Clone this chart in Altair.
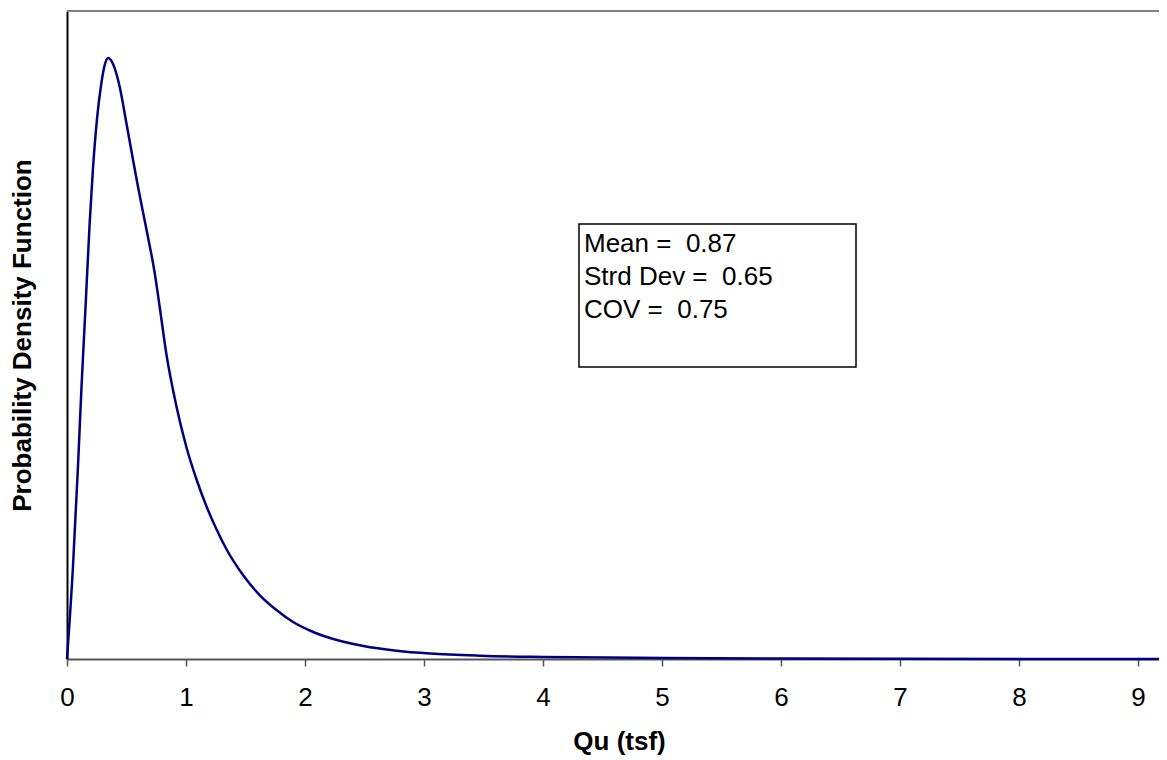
import altair as alt
import pandas as pd

# Curve (x in tsf, y = relative probability density)
qu = [0.0, 0.050, 0.092, 0.121, 0.157, 0.190, 0.218, 0.252, 0.289, 0.317, 0.345,
      0.387, 0.443, 0.499, 0.555, 0.597, 0.667, 0.737, 0.779, 0.835, 0.919,
      1.003, 1.087, 1.171, 1.255, 1.339, 1.479, 1.619, 1.760, 1.900, 2.050, 2.210,
      2.490, 2.770, 3.050, 3.470, 4.0, 5.0, 6.0, 7.0, 8.0, 9.2]
pdf = [0.0000, 0.2130, 0.4444, 0.6250, 0.8218, 1.0069, 1.1343, 1.2500, 1.3333, 1.3750, 1.3912,
       1.3773, 1.3241, 1.2407, 1.1551, 1.0926, 0.9954, 0.8935, 0.8148, 0.7060, 0.5856,
       0.4907, 0.4167, 0.3542, 0.3009, 0.2546, 0.1944, 0.1481, 0.1134, 0.0856, 0.0648, 0.0486,
       0.0301, 0.0192, 0.0127, 0.0076, 0.0046, 0.0023, 0.0012, 0.0005, 0.0002, 0.0001]

stat_names = ["Mean", "Strd Dev", "COV"]
stat_values = [0.87, 0.65, 0.75]
x_ticks = [0, 1, 2, 3, 4, 5, 6, 7, 8, 9]

FONT = "Liberation Sans"
W, H = 1092, 648

df = pd.DataFrame({"qu": qu, "pdf": pdf})

curve = alt.Chart(df).mark_line(color="#000080", strokeWidth=2.5, interpolate="monotone").encode(
    x=alt.X("qu:Q", scale=alt.Scale(domain=[0, 9.176], nice=False, zero=True),
            axis=alt.Axis(values=x_ticks, format="d", title="Qu (tsf)", grid=False,
                          domainColor="#555555", domainWidth=2, tickColor="#555555",
                          tickWidth=1.5, tickSize=7, labelFontSize=26, labelFont=FONT,
                          labelColor="#000000", labelBaseline="alphabetic", labelPadding=39,
                          labelFlush=False, labelOverlap=False,
                          titleFont=FONT, titleFontSize=26, titleFontWeight="bold",
                          titleColor="#000000", titleX=552, titleY=90,
                          titleBaseline="alphabetic", titleAlign="center",
                          titleAnchor="start")),
    y=alt.Y("pdf:Q", scale=alt.Scale(domain=[0, 1.5], nice=False),
            axis=alt.Axis(labels=False, ticks=False, grid=False,
                          title="Probability Density Function",
                          domainColor="#000000", domainWidth=2,
                          titleFont=FONT, titleFontSize=26, titleFontWeight="bold",
                          titleColor="#000000", titleAngle=-90, titleX=-45, titleY=324,
                          titleBaseline="middle", titleAlign="center", titleAnchor="start")),
)

top_border = alt.Chart(df).mark_rule(color="#808080", strokeWidth=2).encode(
    x=alt.value(0), x2=alt.value(W + 10), y=alt.value(0)
)

box_df = pd.DataFrame({"text": ["\n".join(f"{n} =\u00a0\u00a0{v:.2f}" for n, v in zip(stat_names, stat_values))]})

box = alt.Chart(box_df).mark_rect(fill="white", stroke="black", strokeWidth=1.5).encode(
    x=alt.value(512), x2=alt.value(789), y=alt.value(213), y2=alt.value(356)
)

box_text = alt.Chart(box_df).mark_text(
    align="left", baseline="alphabetic", fontSize=26, font=FONT, color="black",
    lineBreak="\n", lineHeight=33
).encode(x=alt.value(517), y=alt.value(241), text="text:N")

chart = alt.layer(curve, top_border, box, box_text).properties(
    width=W, height=H,
    autosize=alt.AutoSizeParams(type="none"),
    padding={"left": 59, "top": 3, "right": 0, "bottom": 100},
).configure_view(stroke=None).configure(background="white")

chart.save("out.html", embed_options={"renderer": "svg", "actions": False})
